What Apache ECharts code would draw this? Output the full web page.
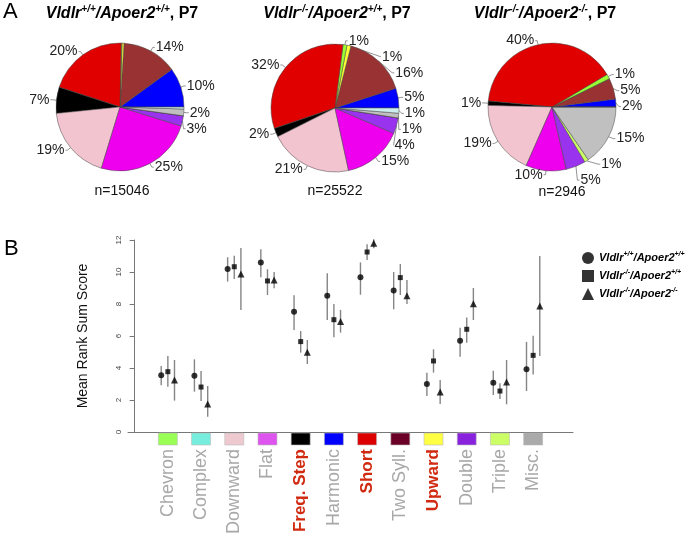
<!DOCTYPE html>
<html>

<head>
    <title>Vocalization categories, P7</title>
    <meta charset="utf-8">
    <script src="https://cdn.jsdelivr.net/npm/echarts@6/dist/echarts.min.js"></script>
</head>

<body style="margin:0">
    <div id="fig" style="width:685px;height:538px;"></div>
    <script>
        // pie slices, listed counter-clockwise from 3 o'clock (R style)
        var sliceNames = ['Harmonic', 'Two Syll.', 'Upward', 'Chevron', 'Short', 'Freq. Step', 'Downward', 'Flat', 'Double', 'Triple', 'Misc.', 'Complex'];
        var sliceColors = ['#0000ff', '#993333', '#ffff33', '#99ff33', '#e00000', '#000000', '#f2c4cf', '#ee00ee', '#9933ee', '#ccff66', '#c0c0c0', '#cceeee'];
        var pieWT = [10, 14, 0.5, 0.2, 20.3, 6.6, 18.7, 24.9, 2.6, 0, 1.7, 0.5];
        var pieVldlr = [5, 16, 1, 1, 32.2, 2.2, 21, 15.1, 4, 0, 1.2, 1.3];
        var pieDouble = [2, 5.3, 0, 1.2, 40, 1.1, 18.8, 10.2, 5, 1, 15.4, 0];
        var pieCounts = [15046, 25522, 2946];

        // panel B
        var categories = ['Chevron', 'Complex', 'Downward', 'Flat', 'Freq. Step', 'Harmonic', 'Short', 'Two Syll.', 'Upward', 'Double', 'Triple', 'Misc.'];
        var boxColors = ['#99ff55', '#77eedd', '#eecad0', '#dd55ee', '#000000', '#0000ff', '#dd0000', '#6b0026', '#ffff44', '#8822dd', '#ccff66', '#aaaaaa'];
        var redCategories = ['Freq. Step', 'Short', 'Upward'];

        var wtMean = [3.54, 3.52, 10.19, 10.6, 7.52, 8.52, 9.67, 8.85, 3.0, 5.71, 3.08, 3.92];
        var wtLow = [2.92, 2.52, 9.40, 9.67, 6.38, 7.0, 8.58, 7.67, 2.25, 4.71, 2.31, 2.56];
        var wtHigh = [4.12, 4.54, 10.92, 11.42, 8.54, 9.92, 10.6, 10.0, 3.71, 6.52, 3.83, 5.63];

        var koMean = [3.77, 2.81, 10.33, 9.44, 5.65, 7.02, 11.25, 9.65, 4.44, 6.42, 2.56, 4.79];
        var koLow = [2.83, 1.94, 9.56, 8.56, 4.96, 5.92, 10.75, 8.56, 3.71, 5.58, 2.06, 3.6];
        var koHigh = [4.75, 3.81, 11.02, 10.17, 6.31, 8.0, 11.73, 10.5, 5.17, 7.15, 3.04, 6.02];

        var dkoMean = [3.25, 1.75, 9.88, 9.5, 4.98, 6.9, 11.79, 8.52, 2.5, 8.02, 3.13, 7.88];
        var dkoLow = [1.96, 0.96, 7.63, 8.98, 4.25, 6.21, 11.48, 8.0, 1.75, 7.0, 1.73, 4.75];
        var dkoHigh = [4.5, 2.88, 11.5, 10.0, 5.75, 7.63, 12.04, 9.5, 3.25, 9.0, 4.5, 11.0];

        var groupNames = ['WT', 'VldlrKO', 'DKO'];
        var offsets = [-0.2, 0, 0.2];

        var font = '"Liberation Sans", Arial, sans-serif';

        var titleRich = {
            i: { fontSize: 16, fontWeight: 'bold', fontStyle: 'italic', fontFamily: font, color: '#000', lineHeight: 20 },
            s: { fontSize: 10, fontWeight: 'bold', fontStyle: 'italic', fontFamily: font, color: '#000', lineHeight: 20, verticalAlign: 'top', padding: [0, 0, 8, 0] },
            b: { fontSize: 16, fontWeight: 'bold', fontFamily: font, color: '#000', lineHeight: 20 }
        };
        var legendRich = {
            i: { fontSize: 11, fontWeight: 'bold', fontStyle: 'italic', fontFamily: font, color: '#000', lineHeight: 14 },
            s: { fontSize: 7, fontWeight: 'bold', fontStyle: 'italic', fontFamily: font, color: '#000', lineHeight: 14, verticalAlign: 'top', padding: [0, 0, 5, 0] }
        };
        function genoText(a, b, extra) {
            return '{i|Vldlr}{s|' + a + '}{i|/Apoer2}{s|' + b + '}' + (extra || '');
        }

        function pieSeries(values, center) {
            return {
                type: 'pie',
                center: center,
                radius: 64,
                startAngle: 0,
                clockwise: false,
                silent: true,
                avoidLabelOverlap: true,
                itemStyle: { borderColor: '#444', borderWidth: 0.5 },
                label: {
                    position: 'outside',
                    fontSize: 14,
                    fontFamily: font,
                    color: '#222',
                    distanceToLabelLine: 1,
                    formatter: function (p) { return Math.round(p.percent) + '%'; }
                },
                labelLine: { length: 4, length2: 2, lineStyle: { color: '#777', width: 0.8 } },
                data: values.map(function (v, i) {
                    var big = v >= 0.8;
                    return {
                        name: sliceNames[i], value: v,
                        itemStyle: { color: sliceColors[i] },
                        label: { show: big }, labelLine: { show: big }
                    };
                })
            };
        }

        function errorSeries(means, lows, highs, k) {
            return {
                type: 'custom',
                silent: true,
                xAxisIndex: 0, yAxisIndex: 0,
                encode: { x: 0, y: [1, 2] },
                data: means.map(function (m, i) { return [i + 1 + offsets[k], lows[i], highs[i]]; }),
                renderItem: function (params, api) {
                    var a = api.coord([api.value(0), api.value(1)]);
                    var b = api.coord([api.value(0), api.value(2)]);
                    return {
                        type: 'line',
                        shape: { x1: a[0], y1: a[1], x2: b[0], y2: b[1] },
                        style: { stroke: '#858585', lineWidth: 1.4 }
                    };
                },
                z: 2
            };
        }

        function pointSeries(means, k, symbol, size) {
            return {
                name: groupNames[k],
                type: 'scatter',
                symbol: symbol,
                symbolSize: size,
                itemStyle: { color: '#000' },
                silent: true,
                data: means.map(function (m, i) { return [i + 1 + offsets[k], m]; }),
                z: 3
            };
        }

        var legendLabels = {
            WT: genoText('+/+', '+/+'),
            VldlrKO: genoText('-/-', '+/+'),
            DKO: genoText('-/-', '-/-')
        };

        var chart = echarts.init(document.getElementById('fig'));
        chart.setOption({
            animation: false,
            backgroundColor: '#fff',
            textStyle: { fontFamily: font },
            graphic: [
                { type: 'text', x: 3, y: 1, style: { text: 'A', font: '22px ' + font, fill: '#000' } },
                { type: 'text', x: 4, y: 238, style: { text: 'B', font: '22px ' + font, fill: '#000' } },
                { type: 'text', x: 122, y: 4, style: { text: genoText('+/+', '+/+', '{b|, P7}'), rich: titleRich, align: 'center' } },
                { type: 'text', x: 337, y: 4, style: { text: genoText('-/-', '+/+', '{b|, P7}'), rich: titleRich, align: 'center' } },
                { type: 'text', x: 545, y: 4, style: { text: genoText('-/-', '-/-', '{b|, P7}'), rich: titleRich, align: 'center' } },
                { type: 'text', x: 122, y: 184, style: { text: 'n=' + pieCounts[0], font: '14px ' + font, fill: '#111', align: 'center' } },
                { type: 'text', x: 335, y: 184, style: { text: 'n=' + pieCounts[1], font: '14px ' + font, fill: '#111', align: 'center' } },
                { type: 'text', x: 562, y: 185, style: { text: 'n=' + pieCounts[2], font: '14px ' + font, fill: '#111', align: 'center' } }
            ],
            legend: {
                data: groupNames,
                orient: 'vertical',
                left: 577,
                top: 246,
                itemWidth: 12,
                itemHeight: 12,
                itemGap: 5,
                selectedMode: false,
                formatter: function (name) { return legendLabels[name]; },
                textStyle: { rich: legendRich }
            },
            grid: { left: 128, top: 240, width: 445, height: 192 },
            xAxis: {
                type: 'value',
                min: -0.2,
                max: 13.2,
                axisLine: { show: true, onZero: false, lineStyle: { color: '#777', width: 1 } },
                axisTick: { show: false },
                axisLabel: { show: false },
                splitLine: { show: false }
            },
            yAxis: {
                type: 'value',
                min: 0,
                max: 12,
                interval: 2,
                name: 'Mean Rank Sum Score',
                nameLocation: 'middle',
                nameRotate: 90,
                nameGap: 38,
                nameTextStyle: { fontSize: 14, color: '#111', fontFamily: font },
                axisLine: { show: true, lineStyle: { color: '#777', width: 1 } },
                axisTick: { show: true, length: 5, lineStyle: { color: '#777' } },
                axisLabel: { rotate: 90, fontSize: 8, color: '#444', margin: 5 },
                splitLine: { show: false }
            },
            series: [
                pieSeries(pieWT, [120, 107]),
                pieSeries(pieVldlr, [335, 108]),
                pieSeries(pieDouble, [552, 107]),
                errorSeries(wtMean, wtLow, wtHigh, 0),
                errorSeries(koMean, koLow, koHigh, 1),
                errorSeries(dkoMean, dkoLow, dkoHigh, 2),
                pointSeries(wtMean, 0, 'circle', 6),
                pointSeries(koMean, 1, 'rect', 5),
                pointSeries(dkoMean, 2, 'triangle', 7),
                {
                    type: 'custom',
                    silent: true,
                    clip: false,
                    encode: { x: 0 },
                    data: categories.map(function (c, i) { return [i + 1]; }),
                    renderItem: function (params, api) {
                        var i = params.dataIndex;
                        var p = api.coord([api.value(0), 0]);
                        var red = redCategories.indexOf(categories[i]) >= 0;
                        return {
                            type: 'group',
                            children: [
                                {
                                    type: 'rect',
                                    shape: { x: p[0] - 9.5, y: p[1] + 1, width: 19, height: 12 },
                                    style: { fill: boxColors[i], stroke: '#bbbbbb', lineWidth: 0.6 }
                                },
                                {
                                    type: 'text',
                                    x: p[0],
                                    y: p[1] + 17,
                                    rotation: Math.PI / 2,
                                    style: {
                                        text: categories[i],
                                        align: 'right',
                                        verticalAlign: 'middle',
                                        fill: red ? '#d02a10' : '#a8a8a8',
                                        font: (red ? 'bold 17px ' : '18px ') + font
                                    }
                                }
                            ]
                        };
                    },
                    z: 4
                }
            ]
        });
    </script>
</body>

</html>
